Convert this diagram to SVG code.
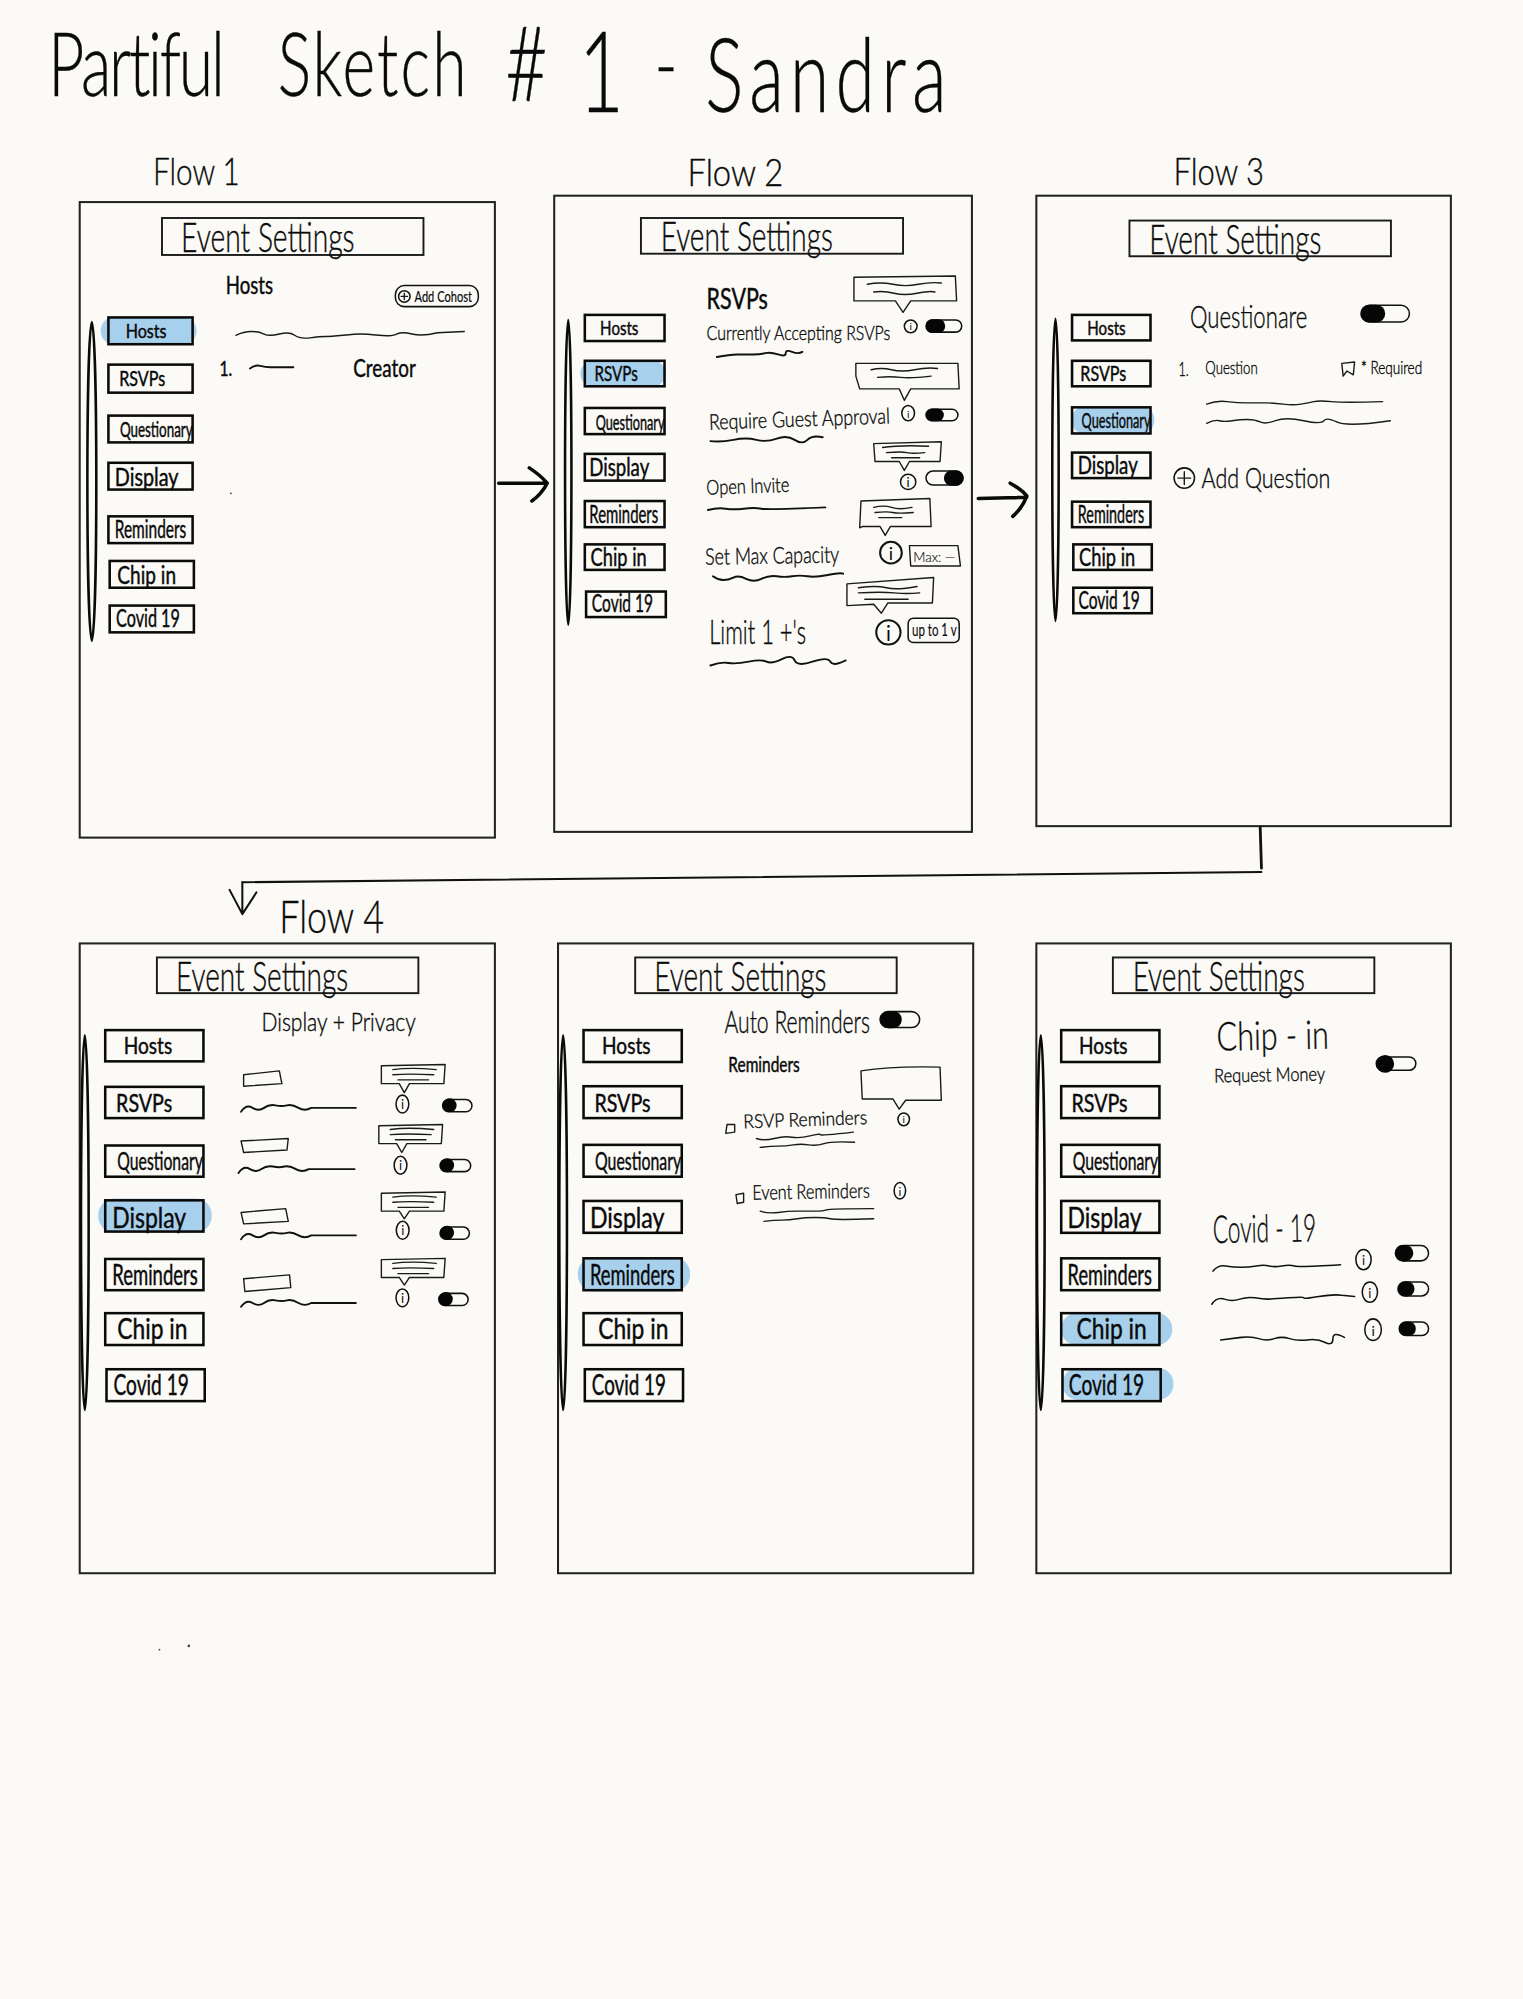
<svg xmlns="http://www.w3.org/2000/svg" width="1523" height="1999" viewBox="0 0 1523 1999">
<style>
text{font-family:"Lato","Liberation Sans",sans-serif;fill:#0a0a0a}
.h{font-weight:300;stroke:#0a0a0a;stroke-width:.3}
.b{font-weight:400;stroke:#0a0a0a;stroke-width:.35}
.frame{fill:none;stroke:#222;stroke-width:1.6}
.head{fill:none;stroke:#1a1a1a;stroke-width:1.5}
.nav{fill:none;stroke:#0a0a0a;stroke-width:2}
.bar{fill:none;stroke:#0a0a0a;stroke-width:2}
.hl{fill:#a7d0ec}
.ln{fill:none;stroke:#1a1a1a;stroke-width:1.1;stroke-linecap:round;stroke-linejoin:round}
.ul{fill:none;stroke:#111;stroke-width:1.5;stroke-linecap:round;stroke-linejoin:round}
.ar{fill:none;stroke:#0a0a0a;stroke-width:2.8;stroke-linecap:round;stroke-linejoin:round}
.thin{fill:none;stroke:#111;stroke-width:1.6;stroke-linecap:round;stroke-linejoin:round}
.knob{fill:#060606}
.pill{fill:none;stroke:#111;stroke-width:1.2}
.dot{fill:#444}
</style>
<rect width="1523" height="1999" fill="#fbfaf6"/>
<g transform="scale(1.2755 1.2749)">
<g id="title">
<text class="h" transform="scale(.7 1)" y="75" font-size="70"><tspan x="54" letter-spacing="-2.5">Partiful </tspan><tspan x="311" letter-spacing="2.4">Sketch </tspan><tspan x="566" font-size="82" dy="4">#</tspan><tspan x="648" font-size="88" dy="9">1 </tspan><tspan x="733" dy="-13">- </tspan><tspan x="790" font-size="80" dy="13" letter-spacing="7">Sandra</tspan></text>
</g>

<g id="flow-1">
<text class="h" x="120" y="145" font-size="30" textLength="68" lengthAdjust="spacingAndGlyphs">Flow 1</text>
<rect class="frame" x="62.5" y="158.5" width="325.5" height="498.5"/>
<rect class="head" x="127" y="171" width="205" height="29"/>
<text class="h" x="142" y="198" font-size="32" textLength="136" lengthAdjust="spacingAndGlyphs">Event Settings</text>
<ellipse class="bar" cx="72" cy="377.5" rx="3.5" ry="125"/>
<rect class="hl" x="79" y="249" width="75" height="21" rx="10"/>
<rect class="nav" x="85" y="249" width="66" height="21"/>
<rect class="nav" x="85" y="286" width="66" height="22"/>
<rect class="nav" x="85" y="326" width="66" height="21"/>
<rect class="nav" x="85" y="363" width="66" height="21"/>
<rect class="nav" x="85" y="405" width="66" height="21"/>
<rect class="nav" x="86" y="440" width="66" height="21"/>
<rect class="nav" x="86" y="475" width="66" height="21"/>
<text class="b" x="98.5" y="265" font-size="15" textLength="32" lengthAdjust="spacingAndGlyphs">Hosts</text>
<text class="b" x="93.5" y="303" font-size="16" textLength="36" lengthAdjust="spacingAndGlyphs">RSVPs</text>
<text class="b" x="94" y="343" font-size="16" textLength="57" lengthAdjust="spacingAndGlyphs">Questionary</text>
<text class="b" x="90" y="381" font-size="19" textLength="50" lengthAdjust="spacingAndGlyphs">Display</text>
<text class="b" x="90" y="422" font-size="19" textLength="56" lengthAdjust="spacingAndGlyphs">Reminders</text>
<text class="b" x="92" y="458" font-size="19" textLength="46" lengthAdjust="spacingAndGlyphs">Chip in</text>
<text class="b" x="91" y="492" font-size="19" textLength="50" lengthAdjust="spacingAndGlyphs">Covid 19</text>
<text class="b" x="177" y="231" font-size="19" textLength="37" lengthAdjust="spacingAndGlyphs">Hosts</text>
<rect class="pill" x="310" y="224" width="65" height="16.5" rx="7"/>
<circle class="pill" cx="317" cy="232.5" r="4.5"/>
<path class="ln" d="M314.5 232.5h5M317 230v5"/>
<text class="b" x="325" y="237" font-size="12" textLength="45" lengthAdjust="spacingAndGlyphs" style="stroke-width:.15">Add Cohost</text>
<path class="ln" d="M185 263q6-3 12-3t10 2 12 0 12 1 12 2 12-1 14-1 14-1 14 1 14-1 12 0 20-1L364 260"/>
<text class="b" x="172" y="295" font-size="17" textLength="10" lengthAdjust="spacingAndGlyphs">1.</text>
<path class="ul" d="M196 289q4-3 8-2t8 1h18"/>
<text class="b" x="277" y="296" font-size="20" textLength="49" lengthAdjust="spacingAndGlyphs">Creator</text>
<circle class="dot" cx="181" cy="387" r=".7"/>
</g>

<g id="flow-2">
<text class="h" x="539" y="146" font-size="29" textLength="75" lengthAdjust="spacingAndGlyphs">Flow 2</text>
<rect class="frame" x="434.5" y="153.5" width="327.5" height="499"/>
<rect class="head" x="502.5" y="171" width="205.5" height="28"/>
<text class="h" x="518" y="197" font-size="32" textLength="135" lengthAdjust="spacingAndGlyphs">Event Settings</text>
<ellipse class="bar" cx="445.5" cy="370.5" rx="2.5" ry="119.5"/>
<rect class="hl" x="455" y="283" width="67" height="20" rx="10"/>
<rect class="nav" x="458.5" y="247" width="62.5" height="20.5"/>
<rect class="nav" x="458.5" y="283" width="62.5" height="20"/>
<rect class="nav" x="458.5" y="320" width="62.5" height="20.5"/>
<rect class="nav" x="458.5" y="356" width="62.5" height="21"/>
<rect class="nav" x="458.5" y="393" width="62.5" height="20.5"/>
<rect class="nav" x="458.5" y="427" width="62.5" height="20"/>
<rect class="nav" x="459.5" y="464" width="62.5" height="20"/>
<text class="b" x="470.5" y="263" font-size="15" textLength="30" lengthAdjust="spacingAndGlyphs">Hosts</text>
<text class="b" x="466" y="299" font-size="16" textLength="34" lengthAdjust="spacingAndGlyphs">RSVPs</text>
<text class="b" x="467" y="337" font-size="16" textLength="54" lengthAdjust="spacingAndGlyphs">Questionary</text>
<text class="b" x="462" y="373" font-size="19" textLength="47" lengthAdjust="spacingAndGlyphs">Display</text>
<text class="b" x="462" y="410" font-size="19" textLength="54" lengthAdjust="spacingAndGlyphs">Reminders</text>
<text class="b" x="463" y="444" font-size="19" textLength="44" lengthAdjust="spacingAndGlyphs">Chip in</text>
<text class="b" x="464" y="480" font-size="19" textLength="48" lengthAdjust="spacingAndGlyphs">Covid 19</text>
<text class="b" x="554" y="242" font-size="22" textLength="48" lengthAdjust="spacingAndGlyphs">RSVPs</text>
<path class="ln" d="M669.5 217.5L749 216.5 750 236H714L708 245 702 236H669.5ZM680 223q10-2 20 0t20 0 18-1M685 229q8-1 16 1t18 0 14-1"/>
<text class="h" x="554" y="267" font-size="16" textLength="144" lengthAdjust="spacingAndGlyphs">Currently Accepting RSVPs</text>
<path class="ul" d="M562 280q10-2 16-2t12 0 10-1 10 1 6-1 5-1 8 0"/>
<ellipse class="pill" cx="714" cy="256" rx="5" ry="5"/><text x="714" y="259" font-size="8" text-anchor="middle">i</text>
<rect class="pill" x="726" y="251" width="28" height="9.5" rx="4.7"/><rect class="knob" x="726" y="250.5" width="15" height="10.5" rx="5"/>
<path class="ln" d="M671 285H751L752 305H714L709 314 705 305H674L671 295ZM683 290q8-2 16 0t18 0 18-1M688 296q10-1 18 0t24-1"/>
<text class="h" x="556" y="337" font-size="17" textLength="142" lengthAdjust="spacingAndGlyphs" transform="rotate(-2 556 337)">Require Guest Approval</text>
<path class="ul" d="M557 346q8 1 18-1t18 0 16-1 14 1 10 0 12-2"/>
<ellipse class="pill" cx="712" cy="324" rx="5" ry="6"/><text x="712" y="327.5" font-size="8" text-anchor="middle">i</text>
<rect class="pill" x="726" y="321" width="25" height="9" rx="4.5"/><rect class="knob" x="726" y="320.5" width="14" height="10" rx="5"/>
<path class="ln" d="M685 348L738 346.5 737 362H713L709 369 705 362H686ZM692 351q14-2 36-1M695 355q12-1 16 0t14 0M699 359h22"/>
<text class="h" x="554" y="388" font-size="16" textLength="65" lengthAdjust="spacingAndGlyphs" transform="rotate(-2 554 388)">Open Invite</text>
<path class="ul" d="M555 400q8-2 14-1t14 0 14 0 50-1"/>
<circle class="pill" cx="712" cy="378" r="6"/><text x="712" y="382" font-size="10" text-anchor="middle">i</text>
<rect class="pill" x="726" y="369.5" width="29" height="11" rx="5.5"/><rect class="knob" x="740" y="369" width="15.5" height="12" rx="6"/>
<path class="ln" d="M675 393L729 391 730 413H698L694 420 690 413H676L674 414ZM685 398q8-2 14 0t16 0M686 402q10-1 14 0t16 0M689 406h18"/>
<text class="h" x="553" y="443" font-size="18" textLength="105" lengthAdjust="spacingAndGlyphs" transform="rotate(-1 553 443)">Set Max Capacity</text>
<path class="ul" d="M559 452q4 3 8 3t8-2 10 1 12 0 12-2 12 0 12 0 16-1 12-1"/>
<circle class="thin" cx="698.5" cy="433.5" r="8.5"/><text x="698.5" y="439" font-size="14" text-anchor="middle">i</text>
<path class="ln" d="M713 428H751L753 444H714Z"/>
<text class="h" x="716" y="441" font-size="10" textLength="33" lengthAdjust="spacingAndGlyphs" style="stroke-width:.1">Max: —</text>
<path class="ln" d="M664 458L732 453 731 473H696L691 481 685 474 664 475ZM673 461q14-2 22 0t24-1M673 465q18-1 28 0t20 0M678 470h34"/>
<text class="h" x="556" y="505" font-size="26" textLength="76" lengthAdjust="spacingAndGlyphs">Limit 1 +'s</text>
<path class="ul" d="M557 522q8-3 14-2t16-1 14 0 12-2 10 1 14 1 14 0 12-1"/>
<circle class="thin" cx="696.5" cy="496" r="9.5"/><text x="696.5" y="503" font-size="16" text-anchor="middle">i</text>
<rect class="pill" x="712" y="485" width="40" height="19" rx="4"/>
<text class="b" x="715" y="499" font-size="13" textLength="35" lengthAdjust="spacingAndGlyphs" style="stroke-width:.1">up to 1 v</text>
</g>

<g id="flow-3">
<text class="h" x="920" y="145" font-size="30" textLength="71" lengthAdjust="spacingAndGlyphs">Flow 3</text>
<rect class="frame" x="812.5" y="153.5" width="325" height="494.5"/>
<rect class="head" x="885.5" y="173" width="205" height="28"/>
<text class="h" x="901" y="199" font-size="32" textLength="135" lengthAdjust="spacingAndGlyphs">Event Settings</text>
<ellipse class="bar" cx="827.5" cy="368.5" rx="2.5" ry="118.5"/>
<rect class="hl" x="840" y="319" width="65" height="21" rx="10"/>
<rect class="nav" x="840.5" y="247" width="61.5" height="20"/>
<rect class="nav" x="840.5" y="283" width="61.5" height="20"/>
<rect class="nav" x="840.5" y="319.5" width="61.5" height="20.5"/>
<rect class="nav" x="840.5" y="355" width="61.5" height="20"/>
<rect class="nav" x="840.5" y="393.5" width="61.5" height="20"/>
<rect class="nav" x="841.5" y="427" width="61.5" height="20"/>
<rect class="nav" x="841.5" y="461" width="61.5" height="20"/>
<text class="b" x="852.5" y="263" font-size="15" textLength="30" lengthAdjust="spacingAndGlyphs">Hosts</text>
<text class="b" x="847" y="299" font-size="16" textLength="36" lengthAdjust="spacingAndGlyphs">RSVPs</text>
<text class="b" x="848" y="336" font-size="16" textLength="54" lengthAdjust="spacingAndGlyphs">Questionary</text>
<text class="b" x="845" y="372" font-size="19" textLength="47" lengthAdjust="spacingAndGlyphs">Display</text>
<text class="b" x="845" y="410" font-size="19" textLength="52" lengthAdjust="spacingAndGlyphs">Reminders</text>
<text class="b" x="846" y="444" font-size="19" textLength="44" lengthAdjust="spacingAndGlyphs">Chip in</text>
<text class="b" x="845.5" y="478" font-size="19" textLength="48" lengthAdjust="spacingAndGlyphs">Covid 19</text>
<text class="h" x="933" y="257" font-size="25" textLength="92" lengthAdjust="spacingAndGlyphs">Questionare</text>
<rect class="pill" x="1067" y="239.5" width="38" height="13" rx="6.5"/><rect class="knob" x="1067" y="239" width="19" height="14" rx="7"/>
<text class="h" x="924" y="295" font-size="15" textLength="8" lengthAdjust="spacingAndGlyphs">1.</text>
<text class="h" x="945" y="293" font-size="14" textLength="41" lengthAdjust="spacingAndGlyphs">Question</text>
<path class="ln" d="M1052 285L1062 284 1061 294 1056 291 1053 295Z"/>
<text class="h" x="1067" y="293" font-size="13" textLength="48" lengthAdjust="spacingAndGlyphs">* Required</text>
<path class="ln" d="M946 317q8-3 16-2t16 1 14 0 14 1 14 0 10-2 14 0 40 0"/>
<path class="ln" d="M946 332q6-3 10-2t10 0 12-1 10 2 12-1 22 0 16 0 10 1 42-1"/>
<circle class="pill" cx="928.5" cy="375" r="8"/><path class="ln" d="M923.5 375h10M928.5 370v10"/>
<text class="h" x="942" y="383" font-size="21" textLength="101" lengthAdjust="spacingAndGlyphs">Add Question</text>
</g>

<g id="flow-4">
<text class="h" x="219" y="732" font-size="36" textLength="82" lengthAdjust="spacingAndGlyphs">Flow 4</text>
<rect class="frame" x="62.5" y="740" width="325.5" height="494"/>
<rect class="head" x="123" y="751" width="205" height="28"/>
<text class="h" x="138" y="777" font-size="32" textLength="135" lengthAdjust="spacingAndGlyphs">Event Settings</text>
<ellipse class="bar" cx="66.5" cy="959" rx="3" ry="147"/>
<rect class="hl" x="77" y="940" width="89" height="27" rx="13"/>
<rect class="nav" x="82.5" y="808" width="77" height="24.5"/>
<rect class="nav" x="82.5" y="852.5" width="77" height="24.5"/>
<rect class="nav" x="82.5" y="898.5" width="77" height="24.5"/>
<rect class="nav" x="82.5" y="941.5" width="77" height="24.5"/>
<rect class="nav" x="82.5" y="987.5" width="77" height="24.5"/>
<rect class="nav" x="82.5" y="1030" width="77" height="25"/>
<rect class="nav" x="83.5" y="1074" width="77" height="25"/>
<text class="b" x="97" y="827" font-size="18" textLength="38" lengthAdjust="spacingAndGlyphs">Hosts</text>
<text class="b" x="91" y="872" font-size="20" textLength="44" lengthAdjust="spacingAndGlyphs">RSVPs</text>
<text class="b" x="92" y="918" font-size="20" textLength="67" lengthAdjust="spacingAndGlyphs">Questionary</text>
<text class="b" x="88" y="963" font-size="23" textLength="58" lengthAdjust="spacingAndGlyphs">Display</text>
<text class="b" x="88" y="1008" font-size="22" textLength="67" lengthAdjust="spacingAndGlyphs">Reminders</text>
<text class="b" x="92" y="1050" font-size="22" textLength="55" lengthAdjust="spacingAndGlyphs">Chip in</text>
<text class="b" x="89" y="1094" font-size="22" textLength="59" lengthAdjust="spacingAndGlyphs">Covid 19</text>
<text class="h" x="205" y="809" font-size="20" textLength="121" lengthAdjust="spacingAndGlyphs">Display + Privacy</text>

<path class="ln" d="M191 843L219 840 221 850 191 852Z"/>
<path class="ul" d="M189 872q4-6 9-3t9 0 9-2 9 0 9 2 10 0L279 869"/>
<path class="ln" d="M299 836L349 835 348 850H321L317 857 313 850H299ZM308 839q14-2 34 0M308 843q12-1 32 0M312 847h24"/>
<ellipse class="pill" cx="315.5" cy="866" rx="5" ry="7"/><text x="315.5" y="870" font-size="10" text-anchor="middle">i</text>
<rect class="pill" x="347" y="862.5" width="23" height="9.5" rx="4.7"/><circle class="knob" cx="352.5" cy="867" r="5.5"/>

<path class="ln" d="M189 895L226 893 225 902 191 904Z"/>
<path class="ul" d="M187 920q4-6 9-3t9 0 9-2 9 0 9 2 10 0L278 917"/>
<path class="ln" d="M297 883L347 882 346 897H319L315 904 311 897H297ZM306 886q14-2 34 0M306 890q12-1 32 0M310 894h24"/>
<ellipse class="pill" cx="314" cy="914" rx="5" ry="7"/><text x="314" y="918" font-size="10" text-anchor="middle">i</text>
<rect class="pill" x="345" y="909.5" width="24" height="9.5" rx="4.7"/><circle class="knob" cx="350.5" cy="914" r="5.5"/>

<path class="ln" d="M189 951L224 948 226 958 191 960Z"/>
<path class="ul" d="M189 972q4-6 9-3t9 0 9-2 9 0 9 2 10 0L279 969"/>
<path class="ln" d="M299 936L349 935 348 950H321L317 956 313 950H299ZM308 939q14-2 34 0M308 943q12-1 32 0M312 947h24"/>
<ellipse class="pill" cx="315.7" cy="965" rx="5" ry="7"/><text x="315.7" y="969" font-size="10" text-anchor="middle">i</text>
<rect class="pill" x="345" y="962.5" width="23" height="9.5" rx="4.7"/><circle class="knob" cx="350.5" cy="967" r="5.5"/>

<path class="ln" d="M191 1003L227 1000 228 1010 192 1013Z"/>
<path class="ul" d="M189 1025q4-6 9-3t9 0 9-2 9 0 9 2 10 0L279 1022"/>
<path class="ln" d="M299 988L349 987 348 1002H321L317 1008 313 1002H299ZM308 991q14-2 34 0M308 995q12-1 32 0M312 999h24"/>
<ellipse class="pill" cx="315.5" cy="1018" rx="5" ry="7"/><text x="315.5" y="1022" font-size="10" text-anchor="middle">i</text>
<rect class="pill" x="344" y="1014.5" width="23" height="9.5" rx="4.7"/><circle class="knob" cx="349.5" cy="1019" r="5.5"/>
</g>

<g id="flow-5">
<rect class="frame" x="437.5" y="740" width="325.5" height="494"/>
<rect class="head" x="498" y="751" width="205" height="28"/>
<text class="h" x="513" y="777" font-size="32" textLength="135" lengthAdjust="spacingAndGlyphs">Event Settings</text>
<ellipse class="bar" cx="441.5" cy="959" rx="3" ry="147"/>
<rect class="hl" x="453" y="986" width="88" height="27" rx="13"/>
<rect class="nav" x="457.5" y="808" width="77" height="25"/>
<rect class="nav" x="457.5" y="852" width="77" height="25"/>
<rect class="nav" x="457.5" y="898" width="77" height="25"/>
<rect class="nav" x="457.5" y="942" width="77" height="25"/>
<rect class="nav" x="457.5" y="987" width="77" height="25"/>
<rect class="nav" x="457.5" y="1030" width="77" height="25"/>
<rect class="nav" x="458.5" y="1074" width="77" height="25"/>
<text class="b" x="472" y="827" font-size="18" textLength="38" lengthAdjust="spacingAndGlyphs">Hosts</text>
<text class="b" x="466" y="872" font-size="20" textLength="44" lengthAdjust="spacingAndGlyphs">RSVPs</text>
<text class="b" x="466.5" y="918" font-size="20" textLength="67.5" lengthAdjust="spacingAndGlyphs">Questionary</text>
<text class="b" x="462.5" y="963" font-size="23" textLength="58.5" lengthAdjust="spacingAndGlyphs">Display</text>
<text class="b" x="462.5" y="1008" font-size="22" textLength="66.5" lengthAdjust="spacingAndGlyphs">Reminders</text>
<text class="b" x="469" y="1050" font-size="22" textLength="55" lengthAdjust="spacingAndGlyphs">Chip in</text>
<text class="b" x="464" y="1094" font-size="22" textLength="58" lengthAdjust="spacingAndGlyphs">Covid 19</text>
<text class="h" x="568" y="810" font-size="24" textLength="114" lengthAdjust="spacingAndGlyphs">Auto Reminders</text>
<rect class="pill" x="690" y="793.5" width="31" height="12.5" rx="6.2"/><rect class="knob" x="690" y="793" width="17" height="13.5" rx="6.7"/>
<text class="b" x="571" y="841" font-size="16" textLength="56" lengthAdjust="spacingAndGlyphs">Reminders</text>
<path class="ln" d="M675 840Q700 836 737 837L738 863H710L705 870 700 862H676Z"/>
<path class="ln" d="M570 882H576L576 888 569 889Z"/>
<text class="h" x="583" y="885" font-size="15" textLength="97" lengthAdjust="spacingAndGlyphs" transform="rotate(-2 583 885)">RSVP Reminders</text>
<path class="ln" d="M593 893q6 2 14 0t14-1 14-1 8-1 26-2"/>
<path class="ln" d="M596 900q8-1 14-1t12-1 12 0 12-1 24-1"/>
<ellipse class="pill" cx="708.5" cy="878" rx="4.5" ry="5"/><text x="708.5" y="881" font-size="8" text-anchor="middle">i</text>
<path class="ln" d="M577 937L583 936 583 943 578 944Z"/>
<text class="h" x="590" y="941" font-size="16" textLength="92" lengthAdjust="spacingAndGlyphs" transform="rotate(-1 590 941)">Event Reminders</text>
<path class="ln" d="M596 950q6 2 14 1t14-1 14 0 10-1 37-1"/>
<path class="ln" d="M599 958q8-1 14-1t12-1 14-1 12 1 34 0"/>
<ellipse class="pill" cx="705.5" cy="934" rx="4.5" ry="6.5"/><text x="705.5" y="938" font-size="9" text-anchor="middle">i</text>
</g>

<g id="flow-6">
<rect class="frame" x="812.5" y="740" width="325" height="494"/>
<rect class="head" x="872.5" y="751" width="205" height="28"/>
<text class="h" x="888" y="777" font-size="32" textLength="135" lengthAdjust="spacingAndGlyphs">Event Settings</text>
<ellipse class="bar" cx="816" cy="959" rx="3" ry="147"/>
<rect class="hl" x="832" y="1030" width="87" height="25" rx="12"/>
<rect class="hl" x="833" y="1073" width="87" height="25" rx="12"/>
<rect class="nav" x="832" y="808" width="77" height="25"/>
<rect class="nav" x="832" y="852" width="77" height="25"/>
<rect class="nav" x="832" y="898" width="77" height="25"/>
<rect class="nav" x="832" y="942" width="77" height="25"/>
<rect class="nav" x="832" y="987" width="77" height="25"/>
<rect class="nav" x="832" y="1030" width="77" height="25"/>
<rect class="nav" x="833" y="1074" width="77" height="25"/>
<text class="b" x="846" y="827" font-size="18" textLength="38" lengthAdjust="spacingAndGlyphs">Hosts</text>
<text class="b" x="840" y="872" font-size="20" textLength="44" lengthAdjust="spacingAndGlyphs">RSVPs</text>
<text class="b" x="841" y="918" font-size="20" textLength="67" lengthAdjust="spacingAndGlyphs">Questionary</text>
<text class="b" x="837" y="963" font-size="23" textLength="58" lengthAdjust="spacingAndGlyphs">Display</text>
<text class="b" x="837" y="1008" font-size="22" textLength="66" lengthAdjust="spacingAndGlyphs">Reminders</text>
<text class="b" x="844" y="1050" font-size="22" textLength="55" lengthAdjust="spacingAndGlyphs">Chip in</text>
<text class="b" x="838" y="1094" font-size="22" textLength="59" lengthAdjust="spacingAndGlyphs">Covid 19</text>
<text class="h" x="954" y="824" font-size="31" textLength="88" lengthAdjust="spacingAndGlyphs" transform="rotate(-1 954 824)">Chip - in</text>
<text class="h" x="952" y="849" font-size="15" textLength="87" lengthAdjust="spacingAndGlyphs" transform="rotate(-1 952 849)">Request Money</text>
<rect class="pill" x="1079" y="829" width="31" height="10.5" rx="5.2"/><circle class="knob" cx="1086" cy="834.5" r="7"/>
<text class="h" x="951" y="975" font-size="30" textLength="81" lengthAdjust="spacingAndGlyphs" transform="rotate(-1 951 975)">Covid - 19</text>
<path class="ul" d="M951 997q4-5 10-4t12 1 12-1 10 0 10 0 10 0 36-1" style="stroke-width:1.2"/>
<path class="ul" d="M950 1023q4-6 10-4t12 0 12-1 10 1 16-1 12 0 12-1 18-1L1062 1017" style="stroke-width:1.2"/>
<path class="ul" d="M957 1051q8-1 16-2t14 1 12 0 12 0 14 1 14 2 6-3 9-1" style="stroke-width:1.2"/>
<ellipse class="pill" cx="1069" cy="988" rx="6" ry="8"/><text x="1069" y="992" font-size="10" text-anchor="middle">i</text>
<ellipse class="pill" cx="1074" cy="1013.5" rx="6" ry="8"/><text x="1074" y="1018" font-size="10" text-anchor="middle">i</text>
<ellipse class="pill" cx="1076.5" cy="1043" rx="6.5" ry="8.5"/><text x="1076.5" y="1048" font-size="11" text-anchor="middle">i</text>
<rect class="pill" x="1094" y="977" width="26" height="12" rx="6"/><rect class="knob" x="1094" y="976.5" width="14" height="13" rx="6.5"/>
<rect class="pill" x="1096" y="1005.5" width="24" height="11" rx="5.5"/><rect class="knob" x="1096" y="1005" width="13" height="12" rx="6"/>
<rect class="pill" x="1097" y="1037" width="23" height="10.5" rx="5.2"/><rect class="knob" x="1097" y="1036.5" width="13" height="11.5" rx="5.7"/>
</g>

<g id="connectors">
<path class="ar" d="M391 379L429 379M415 367Q424 373 429 379Q425 387 417 393"/>
<path class="ar" d="M767 391L805 390M792 379Q801 384 805 389Q802 398 794 405"/>
<path class="thin" style="stroke-width:2.2" d="M988 649L989 681"/>
<path class="thin" d="M989 684L190 692"/>
<path class="thin" d="M190 692V717M180 698L190 717 201 700"/>
</g>
<g id="marks">
<circle class="dot" cx="125" cy="1294" r=".7"/>
<circle class="dot" cx="148" cy="1291" r="1"/>
</g>
</g>
</svg>
